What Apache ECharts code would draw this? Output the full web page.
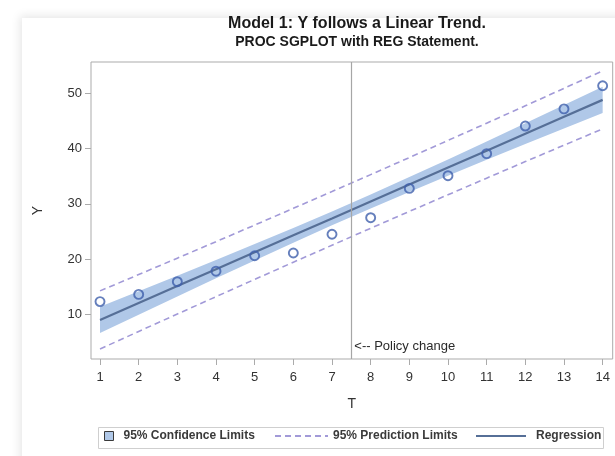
<!DOCTYPE html>
<html>
<head>
<meta charset="utf-8">
<script src="https://cdn.jsdelivr.net/npm/echarts@6/dist/echarts.min.js"></script>
<style>
  html, body { margin: 0; padding: 0; background: #ffffff; }
  #wrap { position: relative; width: 615px; height: 456px; overflow: hidden; background: #ffffff; }
  #panel { position: absolute; left: 22px; top: 18px; width: 620px; height: 460px; background: #ffffff;
           box-shadow: 0 0 9px 2px rgba(0,0,0,0.10); }
  #chart { position: absolute; left: 0; top: 0; width: 615px; height: 456px; }
</style>
</head>
<body>
<div id="wrap">
  <div id="panel"></div>
  <div id="chart"></div>
</div>
<script>
// Observations
const T = [1, 2, 3, 4, 5, 6, 7, 8, 9, 10, 11, 12, 13, 14];
const Y = [12.3, 13.6, 15.9, 17.8, 20.6, 21.1, 24.5, 27.5, 32.8, 35.1, 39.1, 44.1, 47.2, 51.4];

// Fitted regression line and limits at each T
const fit      = [8.97, 12.04, 15.11, 18.17, 21.24, 24.31, 27.37, 30.44, 33.51, 36.57, 39.64, 42.71, 45.78, 48.84];
const clLower  = [6.59, 9.92, 13.23, 16.51, 19.76, 22.97, 26.11, 29.18, 32.17, 35.09, 37.98, 40.83, 43.66, 46.46];
const clUpper  = [11.35, 14.16, 16.99, 19.83, 22.72, 25.65, 28.64, 31.71, 34.85, 38.05, 41.30, 44.59, 47.90, 51.22];
const plLower  = [3.71, 6.89, 10.05, 13.19, 16.32, 19.43, 22.51, 25.58, 28.63, 31.65, 34.66, 37.66, 40.63, 43.58];
const plUpper  = [14.24, 17.19, 20.17, 23.15, 26.16, 29.19, 32.23, 35.30, 38.39, 41.49, 44.62, 47.76, 50.93, 54.10];

// Axis ticks and the policy marker
const xTicks = [1, 2, 3, 4, 5, 6, 7, 8, 9, 10, 11, 12, 13, 14];
const yTicks = [10, 20, 30, 40, 50];
const policyT = 7.5;
const policyText = '<-- Policy change';

const FONT = '"Liberation Sans", Arial, "DejaVu Sans", sans-serif';
const pairs = arr => T.map((t, i) => [t, arr[i]]);

const BAND = '#b0c8e8';
const PRED = '#a29ad8';
const REG = '#566f97';

const chart = echarts.init(document.getElementById('chart'), null, { renderer: 'canvas' });

const option = {
  animation: false,
  backgroundColor: 'transparent',
  textStyle: { fontFamily: FONT },
  title: [
    { text: 'Model 1: Y follows a Linear Trend.', left: 352, top: 11, textAlign: 'center',
      textStyle: { fontFamily: FONT, fontSize: 16, fontWeight: 'bold', color: '#1a1a1a' } },
    { text: 'PROC SGPLOT with REG Statement.', left: 352, top: 30, textAlign: 'center',
      textStyle: { fontFamily: FONT, fontSize: 14, fontWeight: 'bold', color: '#1a1a1a' } }
  ],
  grid: { left: 91, top: 62, right: 2.3, bottom: 97, show: true, borderColor: '#ababab', borderWidth: 1,
          backgroundColor: 'transparent' },
  xAxis: {
    type: 'value', min: 0.767, max: 14.26,
    name: 'T', nameLocation: 'middle', nameGap: 38,
    nameTextStyle: { fontFamily: FONT, fontSize: 14, color: '#333' },
    axisLine: { show: false },
    axisTick: { show: true, length: 6, customValues: xTicks, lineStyle: { color: '#ababab' } },
    axisLabel: { customValues: xTicks, margin: 12, fontFamily: FONT, fontSize: 13, color: '#333' },
    splitLine: { show: false }
  },
  yAxis: {
    type: 'value', min: 1.9, max: 55.7,
    name: 'Y', nameLocation: 'middle', nameGap: 46, nameRotate: 90,
    nameTextStyle: { fontFamily: FONT, fontSize: 14, color: '#333' },
    axisLine: { show: false },
    axisTick: { show: true, length: 6, customValues: yTicks, lineStyle: { color: '#ababab' } },
    axisLabel: { customValues: yTicks, margin: 9, fontFamily: FONT, fontSize: 13, color: '#333' },
    splitLine: { show: false }
  },
  legend: [
    { left: 104, top: 430, padding: 0, itemWidth: 9, itemHeight: 9, selectedMode: false,
      textStyle: { fontFamily: FONT, fontSize: 12, fontWeight: 'bold', color: '#3a3a3a', padding: [0, 0, 0, 5] },
      data: [{ name: '95% Confidence Limits', icon: 'rect',
               itemStyle: { color: BAND, borderColor: '#3a3a3a', borderWidth: 1 } }] },
    { left: 274, top: 430, padding: 0, itemWidth: 53, itemHeight: 9, selectedMode: false,
      textStyle: { fontFamily: FONT, fontSize: 12, fontWeight: 'bold', color: '#3a3a3a' },
      data: [{ name: '95% Prediction Limits', itemStyle: { opacity: 0 } }] },
    { left: 475, top: 430, padding: 0, itemWidth: 50, itemHeight: 9, selectedMode: false,
      textStyle: { fontFamily: FONT, fontSize: 12, fontWeight: 'bold', color: '#3a3a3a', padding: [0, 0, 0, 5] },
      data: [{ name: 'Regression', itemStyle: { opacity: 0 } }] }
  ],
  graphic: [
    { type: 'rect', left: 98, top: 427, z: -1, silent: true,
      shape: { width: 505, height: 21 },
      style: { fill: '#ffffff', stroke: '#cfcfcf', lineWidth: 1 } }
  ],
  series: [
    {
      name: '95% Confidence Limits',
      type: 'custom',
      z: 1,
      itemStyle: { color: BAND },
      data: [0],
      renderItem: function (params, api) {
        const upper = T.map((t, i) => api.coord([t, clUpper[i]]));
        const lower = T.map((t, i) => api.coord([t, clLower[i]])).reverse();
        return {
          type: 'polygon',
          shape: { points: upper.concat(lower) },
          style: { fill: BAND }
        };
      }
    },
    {
      name: '95% Prediction Limits', type: 'line', z: 2, symbol: 'none',
      data: pairs(plUpper),
      lineStyle: { color: PRED, width: 1.6, type: [6, 4] },
      itemStyle: { color: PRED }
    },
    {
      name: '95% Prediction Limits', type: 'line', z: 2, symbol: 'none',
      data: pairs(plLower),
      lineStyle: { color: PRED, width: 1.6, type: [6, 4] },
      itemStyle: { color: PRED }
    },
    {
      name: 'Regression', type: 'line', z: 3, symbol: 'none',
      data: pairs(fit),
      lineStyle: { color: REG, width: 2.2 },
      itemStyle: { color: REG }
    },
    {
      name: 'Y', type: 'scatter', z: 5,
      data: pairs(Y),
      symbol: 'circle', symbolSize: 9,
      itemStyle: { color: 'rgba(255,255,255,0)', borderColor: '#3f5fab', borderWidth: 1.9 },
      markLine: {
        silent: true, symbol: 'none', z: 4,
        lineStyle: { color: '#a6a6a6', width: 1.2, type: 'solid' },
        label: { show: false },
        data: [{ xAxis: policyT }]
      },
      markPoint: {
        silent: true, symbol: 'circle', symbolSize: 0,
        label: { show: true, position: 'right', distance: 3, formatter: policyText,
                 fontFamily: FONT, fontSize: 13, color: '#2a2a2a' },
        data: [{ coord: [policyT, 4.1] }]
      }
    }
  ]
};

chart.setOption(option);
</script>
</body>
</html>
